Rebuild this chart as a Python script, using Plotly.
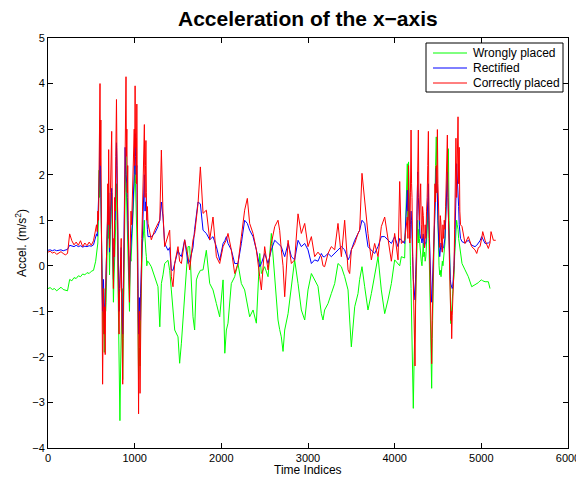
import plotly.graph_objects as go

# ---------------- data ----------------
# calm start
idx_a = [0, 25, 50, 75, 100, 125, 150, 175, 200, 225, 250, 275, 300, 325, 350,
         375, 400, 425, 450, 475, 500, 525, 550]
wrong_a = [-0.50, -0.48, -0.52, -0.50, -0.55, -0.50, -0.47, -0.52, -0.54, -0.55, -0.30,
           -0.33, -0.26, -0.28, -0.22, -0.24, -0.18, -0.20, -0.15, -0.17, -0.12, -0.10, 0.10]
rect_a = [0.34, 0.35, 0.33, 0.35, 0.33, 0.34, 0.35, 0.33, 0.34, 0.36, 0.45,
          0.44, 0.42, 0.45, 0.42, 0.44, 0.41, 0.43, 0.42, 0.44, 0.43, 0.46, 0.62]
corr_a = [0.30, 0.32, 0.28, 0.30, 0.25, 0.28, 0.31, 0.27, 0.24, 0.27, 0.70,
          0.55, 0.46, 0.52, 0.45, 0.55, 0.42, 0.50, 0.44, 0.52, 0.45, 0.55, 0.75]

# first burst
idx_b = [560, 568, 575, 583, 590, 595, 600, 605, 610, 615,
         620, 625, 630, 635, 640, 645, 650, 655, 660, 665,
         670, 675, 680, 685, 690, 695, 700, 705, 710, 715,
         720, 728, 735, 740, 745, 750, 755, 760, 765, 770,
         775, 782, 790, 795, 800, 805, 810, 815, 820, 825,
         830, 838, 845, 850, 855, 862, 866, 870, 875, 880,
         885, 890, 895, 900, 905, 910, 915, 920, 925, 930,
         935, 940, 945, 950, 958, 965, 972, 980, 988, 995,
         1000, 1005, 1010, 1015, 1020, 1025, 1030, 1035, 1040, 1045,
         1050, 1055, 1058, 1062, 1068, 1075, 1082, 1090, 1098, 1105,
         1112, 1116, 1120, 1125, 1130, 1135, 1140, 1147]
wrong_b = [0.3, 0.45, 0.5, 1.2, 2.1, 1.5, 3.2, 2.0, 1.5, 0.6,
           0.0, -0.5, -1.0, -1.3, -1.5, -1.0, -1.9, -1.2, -0.5, -1.0,
           -0.8, -0.3, 0.0, 0.4, 1.0, 0.6, 1.3, 0.5, -0.2, 0.3,
           0.8, 1.2, 1.6, 0.9, 0.5, -0.3, -0.8, -0.4, -0.2, 0.2,
           0.5, 1.0, 1.8, 1.4, 0.8, 0.0, -0.8, -1.4, -2.0, -2.7,
           -3.4, -2.2, -1.5, -0.8, -0.5, -2.5, -1.8, -1.0, 0.0, 0.8,
           1.0, 1.6, 2.0, 2.4, 1.6, 1.2, 1.0, 0.8, 0.3, -0.3,
           -0.6, -1.0, -0.4, 0.2, 0.1, 0.4, 0.6, 1.0, 1.3, 1.8,
           2.1, 2.2, 1.8, 1.5, 1.2, 1.0, 0.3, -0.5, -1.6, -2.5,
           -2.0, -1.8, -2.0, -2.2, -1.2, -0.5, 0.1, 0.5, 0.6, 0.8,
           1.0, 0.7, 0.5, 0.4, 0.3, 0.2, 0.0, 0.1]
rect_b = [0.7, 0.65, 1.0, 1.4, 2.0, 2.1, 2.9, 2.4, 2.2, 1.0,
          0.3, -0.6, -1.0, -0.6, -0.3, -0.7, -1.2, -0.9, -0.8, -0.4,
          -0.2, 0.1, 0.3, 0.8, 1.2, 1.0, 1.6, 1.1, 0.3, 0.8,
          1.2, 1.4, 1.7, 1.2, 0.8, 0.2, -0.3, 0.4, 0.2, 1.0,
          1.0, 1.8, 2.7, 2.2, 1.5, 0.6, -0.2, -0.6, -1.0, -0.5,
          -0.3, 0.1, 0.4, -0.5, -1.2, -1.5, -1.0, -0.5, 0.3, 1.2,
          1.6, 2.6, 2.2, 2.0, 1.9, 1.8, 1.5, 1.2, 0.7, 0.2,
          -0.2, -0.5, 0.0, 0.3, 0.6, 0.7, 0.9, 1.2, 1.6, 2.0,
          2.5, 2.9, 2.4, 2.0, 2.1, 2.2, 1.2, 0.3, -0.8, -1.5,
          -1.1, -0.7, -1.0, -1.2, -0.6, -0.1, 0.4, 0.8, 1.2, 1.5,
          2.0, 1.6, 1.2, 1.4, 1.4, 1.1, 0.9, 0.8]
corr_b = [0.9, 0.75, 1.2, 1.0, 2.5, 1.8, 4.0, 2.2, 3.2, 1.2,
          0.5, -1.0, -2.6, -0.8, -0.5, -1.2, -1.5, -0.9, -1.95, -0.6,
          -0.3, 0.2, 0.3, 1.0, 1.8, 0.9, 2.55, 1.4, 0.4, 1.0,
          1.6, 2.2, 2.95, 1.6, 1.0, 0.2, -0.5, 0.6, 0.2, 1.5,
          1.2, 2.4, 3.65, 2.6, 2.0, 0.8, -0.3, -0.9, -1.5, -0.6,
          -0.5, 0.2, 0.6, -0.8, -2.0, -2.6, -1.6, -0.8, 0.4, 1.5,
          0.8, 2.5, 3.2, 4.15, 2.4, 3.0, 1.6, 2.2, 1.0, 0.3,
          -0.4, -0.8, 0.1, 0.5, 1.2, 0.9, 1.5, 1.8, 2.4, 3.0,
          2.2, 3.95, 2.6, 2.8, 1.8, 3.55, 1.6, 0.5, -1.5, -3.25,
          -1.8, -1.0, -1.8, -2.8, -1.2, -0.2, 0.6, 1.2, 1.8, 2.4,
          3.1, 2.0, 1.5, 2.2, 2.75, 1.6, 1.0, 1.3]

# middle section
idx_c = [1154, 1192, 1231, 1269, 1290, 1308, 1327, 1346, 1385, 1404,
         1423, 1442, 1462, 1500, 1519, 1539, 1577, 1616, 1635, 1654,
         1673, 1692, 1712, 1731, 1758, 1789, 1827, 1866, 1904, 1943,
         1981, 2020, 2040, 2058, 2077, 2115, 2154, 2192, 2231, 2269,
         2300, 2327, 2366, 2404, 2443, 2462, 2500, 2539, 2577, 2616,
         2654, 2673, 2692, 2712, 2731, 2770, 2808, 2846, 2885, 2923,
         2962, 3000, 3039, 3077, 3115, 3154, 3173, 3192, 3231, 3269,
         3308, 3346, 3385, 3423, 3462, 3481, 3500, 3539, 3577, 3596,
         3623, 3654, 3692, 3731, 3769, 3808, 3846, 3885, 3923, 3962,
         4000, 4039, 4058, 4077, 4115]
wrong_c = [0.10, -0.02, -0.24, -0.46, -1.34, -0.39, -0.20, 0.05, 0.12, -0.10,
           -0.53, -0.97, -1.41, -1.56, -2.14, -1.70, -0.53, 0.42, 0.42, -0.31,
           -1.12, -1.41, -0.31, -0.20, -0.10, -0.09, 0.34, -0.39, -0.53, -0.83,
           -1.12, -0.31, -1.92, -1.41, -1.26, -0.39, -0.24, 0.05, -0.39, -0.53,
           -0.83, -1.12, -0.97, -1.26, 0.27, -0.17, -0.02, -0.24, 0.71, -0.24,
           -1.19, -1.40, -1.56, -1.88, -1.41, -1.05, -0.39, 0.13, -0.39, -0.97,
           -1.19, -0.53, -0.17, -0.31, -0.45, -1.05, -1.19, -0.97, -0.83, -0.61,
           -0.39, 0.05, -0.02, -0.24, -0.53, -1.19, -1.78, -0.90, -0.61, -0.30,
           -0.02, -0.46, -0.97, -0.61, -0.24, 0.20, -0.53, -1.05, -0.75, -0.39,
           0.13, 0.05, 0.00, 0.20, 0.17]
rect_c = [0.64, 0.64, 0.71, 0.86, 1.00, 1.40, 1.07, 0.49, 0.34, 0.40,
          -0.09, -0.10, 0.05, 0.34, 0.25, 0.20, 0.57, 0.05, 0.10, 0.27,
          0.40, 0.80, 1.07, 1.40, 1.36, 0.78, 0.71, 0.57, 0.64, 0.42,
          0.12, 0.49, 0.55, 0.64, 0.49, 0.35, 0.05, 0.05, 0.49, 1.00,
          0.93, 0.78, 0.64, 0.35, -0.02, 0.05, 0.27, 0.05, 0.35, 0.56,
          0.49, 0.45, 0.42, 0.30, 0.20, 0.49, 0.20, 0.13, 0.56, 0.42,
          0.49, 0.35, 0.05, 0.13, 0.10, 0.27, 0.20, 0.20, 0.27, 0.20,
          0.27, 0.35, 0.42, 0.35, 0.13, 0.20, 0.35, 0.56, 0.71, 0.78,
          1.00, 0.93, 0.42, 0.35, 0.27, 0.42, 0.64, 0.64, 0.56, 0.49,
          0.64, 0.42, 0.60, 0.56, 0.49]
corr_c = [0.93, 0.57, 0.78, 0.93, 1.00, 2.54, 1.15, 0.42, 0.64, 0.78,
          -0.24, -0.46, 0.05, 0.42, 0.10, 0.05, 0.57, 0.20, -0.09, 0.20,
          0.57, 0.70, 1.07, 1.36, 2.17, 1.15, 1.22, 0.57, 1.07, 0.20,
          0.05, 0.42, 0.50, 0.57, 0.71, 0.35, -0.17, 0.05, 0.64, 1.22,
          1.48, 0.93, 0.71, 0.35, -0.24, -0.53, 0.42, -0.09, 0.49, 0.86,
          1.00, 0.78, 0.35, 0.00, -0.68, 0.56, 0.05, 0.13, 1.14, 0.71,
          0.93, 0.42, 0.64, 0.20, 0.30, 0.20, 0.00, -0.02, 0.27, 0.42,
          0.35, 0.93, 0.20, 1.00, -0.09, -0.17, 0.35, 0.49, 0.71, 0.78,
          2.03, 1.37, 0.71, 0.13, 0.49, 0.20, 0.86, 1.07, 0.64, 0.10,
          0.71, 0.13, 1.85, 0.49, 0.56]

# second burst
idx_d = [4146, 4153, 4160, 4167, 4175, 4182, 4189, 4195, 4200, 4207,
         4215, 4225, 4235, 4242, 4250, 4258, 4266, 4273, 4279, 4285,
         4292, 4300, 4307, 4315, 4322, 4330, 4337, 4345, 4352, 4360,
         4368, 4375, 4382, 4389, 4395, 4400, 4408, 4415, 4421, 4427,
         4434, 4440, 4448, 4455, 4460, 4465, 4472, 4480, 4487, 4493,
         4499, 4505, 4512, 4520, 4527, 4535, 4542, 4550, 4557, 4565,
         4572, 4580, 4588, 4595, 4602, 4608, 4614, 4620, 4628, 4635,
         4642, 4648, 4653, 4658, 4664, 4670, 4677, 4685, 4692, 4700,
         4707, 4715, 4722, 4731, 4738, 4745, 4752, 4760]
wrong_d = [2.24, 1.0, 2.28, 1.2, 0.2, 0.0, -0.5, -1.0, -1.5, -2.4,
           -3.13, -2.0, -1.2, -0.5, 0.0, 0.6, 1.0, 0.5, 0.8, 0.6,
           0.4, 0.3, 0.1, 0.0, 0.3, 0.5, 0.2, 0.3, 0.1, 0.2,
           0.5, 0.8, 1.1, 1.4, 0.6, 0.0, -0.8, -1.5, -2.2, -2.69,
           -1.6, -0.8, 0.0, 0.5, 1.0, 1.5, 2.2, 2.83, 2.0, 1.5,
           0.8, 0.3, 0.0, -0.2, -0.1, -0.24, 0.0, 0.1, 0.0, 0.2,
           0.3, 0.5, 1.0, 1.4, 1.8, 2.0, 2.3, 2.57, 1.0, 0.0,
           -0.8, -1.27, -1.1, -1.0, -0.8, -0.6, -0.4, -0.2, 0.2, 0.5,
           0.8, 1.0, 0.9, 0.8, 0.6, 0.5, 0.45, 0.4]
rect_d = [1.66, 1.2, 1.7, 1.0, 0.6, 0.9, 1.2, 1.0, 0.8, 0.2,
          -0.3, -0.6, -0.75, -0.2, 0.2, 1.2, 2.06, 1.5, 1.1, 0.8,
          0.7, 0.6, 0.6, 0.5, 0.6, 0.7, 0.5, 0.4, 0.5, 0.5,
          0.7, 1.0, 1.5, 1.8, 1.0, 0.6, 0.1, -0.3, -0.6, -0.8,
          -0.5, -0.2, 0.2, 0.6, 0.9, 1.2, 1.7, 2.14, 1.8, 1.6,
          1.0, 0.6, 0.4, 0.2, 0.4, 0.5, 0.4, 0.3, 0.4, 0.4,
          0.5, 0.6, 1.0, 1.5, 1.8, 2.06, 1.5, 1.0, 0.3, -0.2,
          -0.3, -0.4, -0.45, -0.5, -0.5, -0.46, -0.3, 0.0, 0.4, 0.8,
          1.5, 2.24, 2.0, 1.8, 1.3, 0.9, 0.7, 0.6]
corr_d = [1.07, 0.6, 2.2, 1.0, 0.5, 1.6, 2.98, 1.8, 1.5, 0.4,
          -0.5, -1.4, -2.2, -0.8, 0.3, 1.2, 1.5, 2.98, 1.6, 1.0,
          1.4, 1.8, 0.9, 0.6, 1.3, 1.1, 0.7, 0.4, 0.9, 0.6,
          1.2, 1.5, 2.2, 2.95, 1.2, 0.5, -0.3, -1.0, -1.6, -2.15,
          -1.2, -0.5, 0.3, 0.8, 1.3, 1.8, 1.4, 2.2, 1.6, 2.99,
          1.8, 1.2, 0.6, 0.4, 1.1, 0.9, 0.5, 0.3, 0.9, 0.6,
          1.0, 0.8, 1.3, 1.8, 2.3, 2.87, 1.6, 1.0, 0.2, -0.6,
          -0.9, -1.2, -1.0, -1.6, -1.1, -0.8, -0.3, 0.0, 0.8, 1.5,
          2.8, 1.5, 3.1, 3.27, 1.8, 2.6, 1.2, 0.9]

# calm end
idx_e = [4777, 4812, 4850, 4889, 4927, 4947, 4966, 4985, 5004, 5016,
         5043, 5081, 5100, 5112, 5139, 5166]
wrong_e = [0.05, -0.09, -0.24, -0.46, -0.42, -0.40, -0.37, -0.33, -0.31, -0.33,
           -0.35, -0.35, -0.50, None, None, None]
rect_e = [0.53, 0.50, 0.56, 0.45, 0.42, 0.45, 0.50, 0.55, 0.64, 0.60,
          0.49, 0.50, 0.53, None, None, None]
corr_e = [0.86, 0.49, 0.64, 0.42, 0.35, 0.27, 0.40, 0.42, 0.60, 0.75,
          0.56, 0.38, 0.50, 0.75, 0.56, 0.56]

time_idx = idx_a + idx_b + idx_c + idx_d + idx_e
wrongly = wrong_a + wrong_b + wrong_c + wrong_d + wrong_e
rectified = rect_a + rect_b + rect_c + rect_d + rect_e
correctly = corr_a + corr_b + corr_c + corr_d + corr_e
assert len(time_idx) == len(wrongly) == len(rectified) == len(correctly)

series_names = ["Wrongly placed", "Rectified", "Correctly placed"]
series_colors = ["#00ff00", "#0000ff", "#ff0000"]
x_ticks = [0, 1000, 2000, 3000, 4000, 5000, 6000]
y_ticks = [-4, -3, -2, -1, 0, 1, 2, 3, 4, 5]
y_ticktext = ["\u22124", "\u22123", "\u22122", "\u22121", "0", "1", "2", "3", "4", "5"]

# ---------------- figure ----------------
FONT = "Liberation Sans, Arial, Helvetica, sans-serif"
fig = go.Figure()
for name, vals, col in zip(series_names, [wrongly, rectified, correctly], series_colors):
    fig.add_trace(go.Scatter(x=time_idx, y=vals, mode="lines", name=name,
                             line=dict(color=col, width=1), showlegend=False))

axis_common = dict(showgrid=False, zeroline=False, showline=True, linecolor="black",
                   linewidth=1, mirror="ticks", ticks="inside", ticklen=5,
                   tickcolor="black", automargin=False,
                   tickfont=dict(family=FONT, size=11, color="black"))

# The page body has an 8px margin, so the figure is drawn 8px in from the
# window's top-left corner.  Target plot area (window pixels): 48..568 x 38..448.
OFF = 8
L, R, T, B = 48, 568, 38, 448
FIG_W, FIG_H = 576, 474
W, H = R - L, B - T


def px_x(p):
    return (p - L) / W


def px_y(p):
    return (B - p) / H


shapes = []
annotations = []

# legend box (drawn like the MATLAB legend)
shapes.append(dict(type="rect", xref="paper", yref="paper",
                   x0=px_x(426), x1=px_x(563), y0=px_y(92), y1=px_y(43),
                   line=dict(color="black", width=1), fillcolor="white", layer="above"))
for i, (name, col) in enumerate(zip(series_names, series_colors)):
    yy = 53 + 15 * i
    shapes.append(dict(type="line", xref="paper", yref="paper",
                       x0=px_x(433), x1=px_x(467), y0=px_y(yy), y1=px_y(yy),
                       line=dict(color=col, width=1), layer="above"))
    annotations.append(dict(text=name, xref="paper", yref="paper",
                            x=px_x(471), y=px_y(yy), xanchor="left", yanchor="middle",
                            showarrow=False, font=dict(family=FONT, size=12, color="black")))

# title and axis titles
annotations.append(dict(text="<b>Acceleration of the x\u2212axis</b>", xref="paper", yref="paper",
                        x=px_x(308), y=px_y(19), xanchor="center", yanchor="middle",
                        showarrow=False, font=dict(family=FONT, size=21, color="black")))
annotations.append(dict(text="Time Indices", xref="paper", yref="paper",
                        x=px_x(308), y=px_y(470), xanchor="center", yanchor="middle",
                        showarrow=False, font=dict(family=FONT, size=12, color="black")))
annotations.append(dict(text="Accel. (m/s<sup>2</sup>)", xref="paper", yref="paper",
                        x=px_x(21), y=px_y(243), xanchor="center", yanchor="middle",
                        textangle=-90, showarrow=False,
                        font=dict(family=FONT, size=12, color="black")))

fig.update_layout(
    width=FIG_W, height=FIG_H,
    margin=dict(l=L - OFF, r=OFF + FIG_W - R, t=T - OFF, b=OFF + FIG_H - B, autoexpand=False),
    paper_bgcolor="white", plot_bgcolor="white",
    font=dict(family=FONT, size=11, color="black"),
    xaxis=dict(range=[0, 6000], tickvals=x_ticks, **axis_common),
    yaxis=dict(range=[-4, 5], tickvals=y_ticks, ticktext=y_ticktext, **axis_common),
    shapes=shapes,
    annotations=annotations,
    showlegend=False,
)

fig.write_html("out.html")
